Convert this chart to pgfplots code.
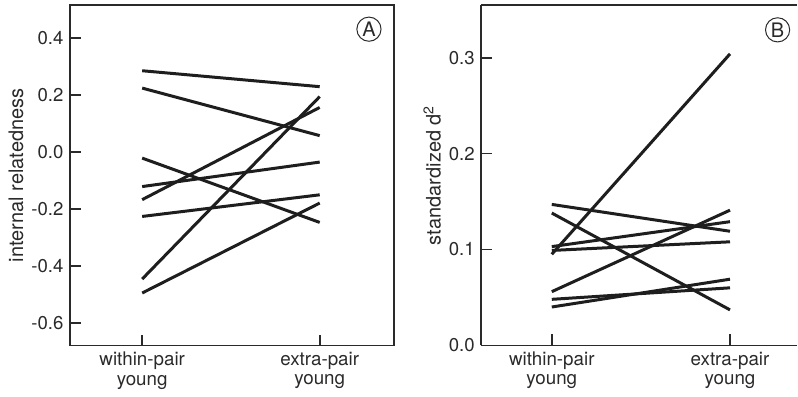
\documentclass[border=0pt]{standalone}
\usepackage{pgfplots}
\pgfplotsset{compat=1.18}
\usepackage{fontspec}
\setmainfont{TeX Gyre Heros}
\definecolor{ink}{HTML}{1E1E1E}
\definecolor{axc}{HTML}{2A2A2A}
\tikzset{circ/.style={circle, draw=axc, line width=0.5pt, inner sep=0.8pt, minimum size=11.6pt, text=axc, font=\fontsize{10}{11}\selectfont}}
\begin{document}
\begin{tikzpicture}
\fontsize{9.3}{11}\selectfont
\path (0,0) rectangle (399pt,198.5pt);
\pgfplotsset{
  myax/.style={
    scale only axis,
    anchor=south west,
    tick align=inside,
    major tick length=5.5pt,
    ytick pos=left,
    xtick pos=bottom,
    xtick={0,1},
    xticklabels={within-pair\\young, extra-pair\\young},
    xticklabel style={align=center, font=\fontsize{9.4}{9.6}\selectfont, text=axc},
    yticklabel style={font=\fontsize{9.3}{11}\selectfont, text=axc},
    ylabel style={font=\fontsize{10}{11}\selectfont, text=axc},
    ylabel shift=-2.5pt,
    /pgf/number format/assume math mode=true,
    /pgf/number format/fixed,
    /pgf/number format/fixed zerofill,
    /pgf/number format/precision=1,
    axis line style={axc, line width=0.8pt},
    every tick/.style={axc, line width=0.8pt},
    clip=false,
  },
  ln/.style={ink, solid, line width=1.5pt, mark=none},
}
\begin{axis}[myax,
  at={(35pt,25.5pt)},
  width=162.15pt, height=170.5pt,
  xmin=-0.407, xmax=1.418,
  ymin=-0.680, ymax=0.517,
  ytick={-0.6,-0.4,-0.2,0,0.2,0.4},
  ylabel={internal relatedness},
]
\addplot[ln] coordinates {(0,0.286) (1,0.230)};
\addplot[ln] coordinates {(0,0.225) (1,0.058)};
\addplot[ln] coordinates {(0,-0.021) (1,-0.247)};
\addplot[ln] coordinates {(0,-0.121) (1,-0.035)};
\addplot[ln] coordinates {(0,-0.167) (1,0.157)};
\addplot[ln] coordinates {(0,-0.226) (1,-0.150)};
\addplot[ln] coordinates {(0,-0.446) (1,0.195)};
\addplot[ln] coordinates {(0,-0.495) (1,-0.179)};
\node[circ] at (rel axis cs:0.923,0.929) {A};
\end{axis}
\begin{axis}[myax,
  at={(240.85pt,25.65pt)},
  width=158.15pt, height=170.35pt,
  separate axis lines,
  axis x line*=box,
  axis y line*=left,
  xmin=-0.396, xmax=1.377,
  ymin=0, ymax=0.355,
  ytick={0,0.1,0.2,0.3},
  ylabel={standardized d\textsuperscript{2}},
]
\addplot[ln] coordinates {(0,0.095) (1,0.304)};
\addplot[ln] coordinates {(0,0.147) (1,0.119)};
\addplot[ln] coordinates {(0,0.138) (1,0.037)};
\addplot[ln] coordinates {(0,0.103) (1,0.129)};
\addplot[ln] coordinates {(0,0.099) (1,0.108)};
\addplot[ln] coordinates {(0,0.056) (1,0.141)};
\addplot[ln] coordinates {(0,0.048) (1,0.060)};
\addplot[ln] coordinates {(0,0.040) (1,0.069)};
\node[circ] at (rel axis cs:0.938,0.927) {B};
\end{axis}
\end{tikzpicture}
\end{document}
